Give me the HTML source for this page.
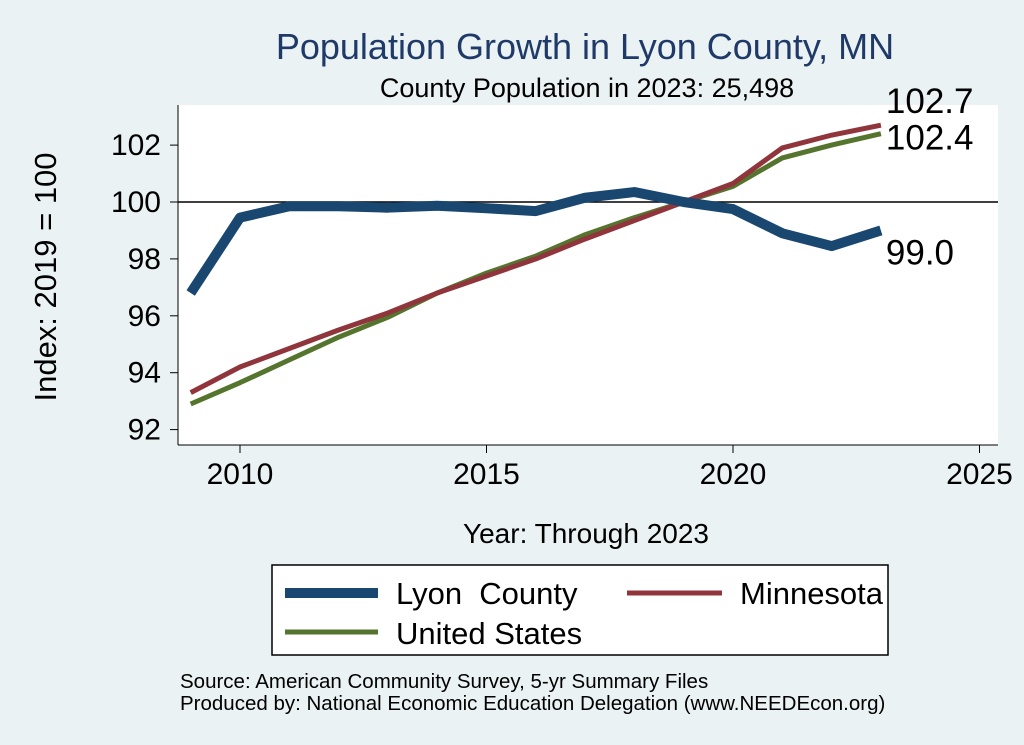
<!DOCTYPE html>
<html><head><meta charset="utf-8"><style>
body{margin:0;background:#eaf2f3;}
svg{display:block;font-family:"Liberation Sans",sans-serif;}
</style></head><body>
<svg id="c" width="1024" height="745">
<rect x="0" y="0" width="1024" height="745" fill="#eaf2f3"/>
<rect x="178" y="105" width="820" height="340" fill="#fff"/>
<text x="585" y="59" font-size="36" fill="#1f3a68" text-anchor="middle">Population Growth in Lyon County, MN</text>
<text x="587" y="97" font-size="27" text-anchor="middle">County Population in 2023: 25,498</text>
<text transform="translate(56,277) rotate(-90)" font-size="31" text-anchor="middle">Index: 2019 = 100</text>
<text x="586" y="543" font-size="28" text-anchor="middle">Year: Through 2023</text>
<g id="ax"></g><g id="series"></g>
<rect x="272" y="565" width="616" height="90" fill="#fff" stroke="#000" stroke-width="1.5"/>
<g><line x1="285" y1="593" x2="378" y2="593" stroke="#1a476f" stroke-width="10"/><text x="396" y="604" font-size="31">Lyon&#160; County</text></g>
<g><line x1="627" y1="593" x2="722" y2="593" stroke="#90353b" stroke-width="5"/><text x="740" y="604" font-size="31">Minnesota</text></g>
<g><line x1="285" y1="632" x2="378" y2="632" stroke="#55752f" stroke-width="5"/><text x="396" y="644" font-size="31">United States</text></g>
<text x="180" y="688" font-size="20.5">Source: American Community Survey, 5-yr Summary Files</text>
<text x="180" y="710" font-size="20.5">Produced by: National Economic Education Delegation (www.NEEDEcon.org)</text>
</svg>
<script>
const years=[2009,2010,2011,2012,2013,2014,2015,2016,2017,2018,2019,2020,2021,2022,2023];
const lyon=[96.8,99.45,99.85,99.85,99.8,99.87,99.78,99.68,100.15,100.35,100,99.75,98.9,98.45,99.0];
const mn=[93.3,94.2,94.85,95.5,96.1,96.8,97.4,98.0,98.7,99.35,100,100.65,101.9,102.35,102.7];
const us=[92.9,93.65,94.45,95.25,95.95,96.8,97.5,98.1,98.85,99.45,100,100.55,101.55,102.0,102.4];
const xTicks=[2010,2015,2020,2025];
const yTicks=[92,94,96,98,100,102];
const NS="http://www.w3.org/2000/svg";
const X=v=>240+(v-2010)*49.3;
const Y=v=>202-(v-100)*28.45;
function mk(t,a,p){const e=document.createElementNS(NS,t);for(const k in a)e.setAttribute(k,a[k]);p.appendChild(e);return e;}
const ax=document.getElementById('ax');
mk('line',{x1:178,y1:105,x2:178,y2:445,stroke:'#000','stroke-width':1},ax);
mk('line',{x1:178,y1:445,x2:998,y2:445,stroke:'#000','stroke-width':1},ax);
mk('line',{x1:178,y1:Y(100),x2:998,y2:Y(100),stroke:'#000','stroke-width':1.5},ax);
yTicks.forEach(v=>{
 const l=mk('line',{x1:170,y1:Y(v),x2:178,y2:Y(v),stroke:'#000'},ax);
 
 
 const t=mk('text',{x:161,y:Y(v)+10,'font-size':30,'text-anchor':'end'},ax);t.textContent=v;
 
 
});
xTicks.forEach(v=>{
 const l=mk('line',{x1:X(v),y1:445,x2:X(v),y2:453,stroke:'#000'},ax);
 
 
 const t=mk('text',{x:X(v),y:484,'font-size':30,'text-anchor':'middle'},ax);t.textContent=v;
 
 
});
const sg=document.getElementById('series');
function line(d,c,w,n){
 const p=mk('polyline',{points:d.map((v,i)=>X(years[i])+','+Y(v)).join(' '),fill:'none',stroke:c,'stroke-width':w,'stroke-linejoin':'round'},sg);
 
 
}
line(us,'#55752f',5,'us-line');
line(mn,'#90353b',5,'minnesota-line');
line(lyon,'#1a476f',10,'lyon-line');
const last=years.length-1;
[[mn[last],'mn',-12],[us[last],'us',16],[lyon[last],'lyon',34]].forEach(([v,n,dy])=>{
 const t=mk('text',{x:X(years[last])+5,y:Y(v)+dy,'font-size':35},sg);t.textContent=v.toFixed(1);
 
 
});
</script>
</body></html>
